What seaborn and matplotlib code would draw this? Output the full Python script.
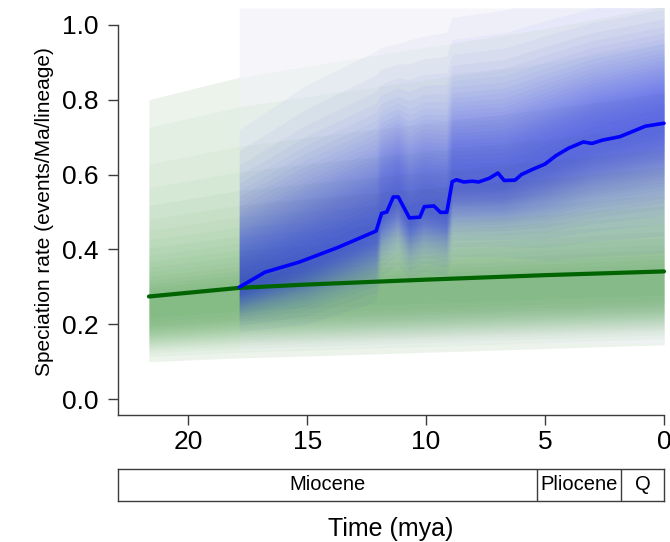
import numpy as np
import matplotlib
matplotlib.use("Agg")
import matplotlib.pyplot as plt
import seaborn as sns

# green (background) speciation rate curve
green_time = [21.65, 17.85, 15.0, 10.0, 5.0, 0.0]
green_rate = [0.274, 0.297, 0.306, 0.319, 0.331, 0.341]
green_lo = [0.10, 0.11, 0.115, 0.125, 0.135, 0.145]
green_hi = [0.80, 0.86, 0.89, 0.94, 0.99, 1.05]

# blue clade speciation rate curve
blue_time = [17.85, 16.77, 15.33, 13.71, 12.1, 11.87, 11.65, 11.38, 11.17, 10.70,
             10.26, 10.08, 9.67, 9.4, 9.13, 8.9, 8.72, 8.42, 8.06, 7.79, 7.34,
             6.98, 6.72, 6.26, 5.99, 5.55, 5.0, 4.55, 4.02, 3.39, 3.03, 2.58,
             1.86, 1.32, 0.79, 0.0]
blue_rate = [0.299, 0.339, 0.366, 0.405, 0.449, 0.496, 0.50, 0.54, 0.54, 0.484,
             0.486, 0.514, 0.516, 0.499, 0.499, 0.581, 0.586, 0.58, 0.582, 0.58, 0.59,
             0.604, 0.584, 0.585, 0.60, 0.613, 0.628, 0.65, 0.67, 0.687, 0.683, 0.692,
             0.701, 0.715, 0.729, 0.737]

# blue density: core band and faint outer envelope
band_time = [17.85, 15.0, 12.1, 11.9, 11.2, 10.7, 10.1, 9.15, 8.9, 6.7, 5.0, 3.0, 0.0]
band_mid = [0.30, 0.37, 0.45, 0.50, 0.54, 0.485, 0.515, 0.50, 0.58, 0.585, 0.63, 0.685, 0.737]
band_lo = [0.18, 0.20, 0.26, 0.33, 0.36, 0.32, 0.34, 0.33, 0.38, 0.38, 0.37, 0.38, 0.39]
band_hi = [0.72, 0.84, 0.93, 0.94, 0.95, 0.96, 0.97, 0.98, 1.02, 1.04, 1.07, 1.10, 1.13]
env_lo = [0.13, 0.135, 0.14, 0.14, 0.145, 0.145, 0.145, 0.145, 0.145, 0.15, 0.15, 0.15, 0.15]
env_hi = [1.045] * len(band_time)

# geological timescale
epochs = ["Miocene", "Pliocene", "Q"]
epoch_start = [23.03, 5.33, 1.8]
epoch_end = [5.33, 1.8, 0.0]

x_ticks = [20, 15, 10, 5, 0]
y_ticks = [0.0, 0.2, 0.4, 0.6, 0.8, 1.0]

sns.set_style("ticks")
plt.rcParams["font.family"] = ["Liberation Sans", "DejaVu Sans"]
plt.rcParams["text.color"] = "black"
plt.rcParams["xtick.color"] = "#3c3c3c"
plt.rcParams["ytick.color"] = "#3c3c3c"
plt.rcParams["xtick.labelcolor"] = "black"
plt.rcParams["ytick.labelcolor"] = "black"
plt.rcParams["axes.labelcolor"] = "black"


def layer_offsets(pmax, s, k, a):
    # fraction of half-width reached by each nested layer so that the stacked
    # opacity follows pmax * exp(-(r/s)**k)
    r = np.linspace(0, 1, 4001)
    p = pmax * np.exp(-(r / s) ** k)
    m = np.log(1 - p) / np.log(1 - a)
    n = int(round(m[0]))
    return np.array([r[np.argmin(np.abs(m - (j - 0.5)))] for j in range(1, n + 1)])


def density_band(ax, t, mid, lo, hi, color, pmax, up, down, a=0.035):
    t, mid, lo, hi = map(np.asarray, (t, mid, lo, hi))
    f_up = layer_offsets(pmax, *up, a)
    f_lo = layer_offsets(pmax, *down, a)
    for fu, fl in zip(f_up, f_lo):
        ax.fill_between(t, mid - (mid - lo) * fl, mid + (hi - mid) * fu,
                        color=color, alpha=a, lw=0)


fig = plt.figure(figsize=(6.7, 5.42), dpi=100)
W, H = 670, 542
ax = fig.add_axes([118 / W, 1 - 414.5 / H, (664 - 118) / W, (414.5 - 8) / H])

# faint outer envelopes
ax.fill_between(green_time, green_lo, green_hi, color="#f3f7f3", lw=0)
ax.fill_between(band_time, env_lo, env_hi, color="#f6f6fa", lw=0)

density_band(ax, green_time, green_rate, green_lo, green_hi, "#238a23",
             pmax=0.5, up=(0.38, 1.0), down=(0.75, 4.0))
sns.lineplot(x=green_time, y=green_rate, ax=ax, color="#006400", lw=3.0,
             solid_capstyle="round", clip_on=False)
density_band(ax, band_time, band_mid, band_lo, band_hi, "#1a2ae8",
             pmax=0.62, up=(0.55, 2.0), down=(0.55, 2.0))
sns.lineplot(x=blue_time, y=blue_rate, ax=ax, color="#0000ff", lw=2.6,
             solid_capstyle="round", clip_on=False)

ax.set_xlim(22.95, 0)
ax.set_ylim(-0.0414, 1.045)
ax.set_xticks(x_ticks)
ax.set_xticklabels([str(v) for v in x_ticks])
ax.set_yticks(y_ticks)
ax.set_yticklabels([f"{v:.1f}" for v in y_ticks])
ax.tick_params(axis="both", labelsize=19, length=7, width=1, direction="out")
ax.tick_params(axis="y", pad=7)
ax.tick_params(axis="x", pad=4)
ax.spines["top"].set_visible(False)
ax.spines["right"].set_visible(False)
for s in ("left", "bottom"):
    ax.spines[s].set_color("#3c3c3c")
    ax.spines[s].set_linewidth(1)
ax.spines["left"].set_bounds(-0.0414, 1.0)
ax.set_ylabel("Speciation rate (events/Ma/lineage)", fontsize=15, labelpad=6)
ax.set_xlabel("")

# timescale bar
tax = fig.add_axes([118 / W, 1 - 501 / H, (664 - 118) / W, 32 / H])
tax.set_xlim(22.95, 0)
tax.set_ylim(0, 1)
for s in tax.spines.values():
    s.set_color("#3c3c3c")
    s.set_linewidth(1)
tax.set_xticks([])
tax.set_yticks([])
xl = tax.get_xlim()[0]
for name, a, b in zip(epochs, epoch_start, epoch_end):
    if b > 0:
        tax.axvline(b, color="#3c3c3c", lw=1)
    tax.text((min(a, xl) + b) / 2, 0.5, name, ha="center", va="center", fontsize=14.5)

fig.text((118 + 664) / 2 / W, 1 - 529 / H, "Time (mya)", ha="center", va="center",
         fontsize=18)

fig.savefig("out.png", dpi=100)
